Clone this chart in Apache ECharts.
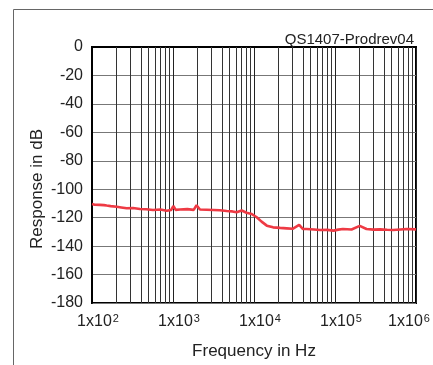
<!DOCTYPE html>
<html>
<head>
<meta charset="utf-8">
<script src="https://cdn.jsdelivr.net/npm/echarts@6/dist/echarts.min.js"></script>
<style>
  html, body { margin: 0; padding: 0; background: #fff; }
  #chart { width: 433px; height: 365px; }
</style>
</head>
<body>
<div id="chart"></div>
<script>
const freqHz = [100, 108, 114, 125, 140, 152, 170, 202, 230, 268, 320, 391, 470, 566, 700, 836, 950, 1010, 1080, 1220, 1500, 1800, 1955, 2150, 2600, 3150, 3800, 4600, 5400, 6100, 7050, 8100, 9370, 10800, 12400, 14400, 17200, 21000, 25300, 30000, 36100, 40000, 44500, 55000, 65300, 80000, 95900, 110000, 125000, 160000, 202000, 245000, 300000, 360000, 440000, 521000, 640000, 767000, 1000000];
const respDb = [-110.4, -110.9, -109.9, -111.0, -111.2, -111.5, -111.9, -112.3, -112.8, -113.4, -113.2, -113.9, -114.1, -114.6, -114.3, -115.1, -114.6, -111.8, -114.5, -114.3, -114.0, -114.5, -111.3, -114.3, -114.4, -114.6, -114.8, -115.3, -115.6, -116.2, -115.0, -116.5, -117.4, -119.7, -122.8, -125.6, -126.8, -127.2, -127.5, -127.8, -125.1, -127.9, -128.0, -128.3, -128.7, -128.6, -129.1, -128.4, -128.0, -128.3, -125.8, -128.0, -128.4, -128.2, -128.5, -128.7, -128.3, -128.0, -128.2];

const yTicks = [0, -20, -40, -60, -80, -100, -120, -140, -160, -180];
const decades = [100, 1000, 10000, 100000];
const minorSteps = [2, 3, 4, 5, 6, 7, 8, 9];

const minorLines = [];
decades.forEach(d => minorSteps.forEach(m => minorLines.push({ xAxis: d * m })));

const chart = echarts.init(document.getElementById('chart'));
const font = 'Liberation Sans, Arial, sans-serif';

chart.setOption({
  animation: false,
  title: {
    text: 'QS1407-Prodrev04',
    right: 14,
    top: 27,
    textStyle: { fontFamily: font, fontSize: 15, fontWeight: 'normal', color: '#222' }
  },
  graphic: [{
    type: 'polyline',
    silent: true,
    shape: { points: [[13.5, 370], [13.5, 9.5], [440, 9.5]] },
    style: { fill: null, stroke: '#666', lineWidth: 1 }
  }, {
    type: 'text',
    silent: true,
    x: 37,
    y: 189,
    rotation: Math.PI / 2,
    style: {
      text: 'Response in dB',
      fontFamily: font, fontSize: 17, fill: '#222',
      align: 'center', verticalAlign: 'middle'
    }
  }],
  grid: {
    left: 92, top: 47, right: 17, bottom: 62,
    outerBoundsMode: 'none',
    show: true, borderColor: '#000', borderWidth: 2, backgroundColor: 'transparent'
  },
  xAxis: {
    type: 'log',
    logBase: 10,
    min: 100,
    max: 1000000,
    name: 'Frequency in Hz',
    nameLocation: 'middle',
    nameGap: 40,
    nameTextStyle: { fontFamily: font, fontSize: 17, color: '#222' },
    axisLine: { show: true, lineStyle: { color: '#000', width: 2 } },
    axisTick: { show: false },
    splitLine: { show: true, lineStyle: { color: '#222', width: 1 } },
    axisLabel: {
      margin: 10,
      padding: [0, 0, 0, 12],
      formatter: v => {
        const e = Math.round(Math.log10(v));
        return '{b|1x10}{s|' + e + '}' + (e === 6 ? '{g| }' : '');
      },
      rich: {
        b: { fontFamily: font, fontSize: 16, color: '#222' },
        s: { fontFamily: font, fontSize: 11, color: '#222', verticalAlign: 'top', padding: [0, 0, 7, 1] },
        g: { width: 26, fontSize: 11 }
      }
    }
  },
  yAxis: {
    type: 'value',
    min: -180,
    max: 0,
    interval: 20,
    axisLine: { show: true, lineStyle: { color: '#000', width: 2 } },
    axisTick: { show: false },
    splitLine: { show: true, lineStyle: { color: '#777', width: 1 } },
    axisLabel: {
      margin: 9,
      fontFamily: font, fontSize: 16, color: '#222',
      formatter: v => yTicks.includes(v) ? String(v) : ''
    }
  },
  series: [{
    type: 'line',
    data: freqHz.map((f, i) => [f, respDb[i]]),
    showSymbol: false,
    lineStyle: { color: '#ee3a44', width: 2.6 },
    z: 5,
    markLine: {
      silent: true,
      symbol: 'none',
      label: { show: false },
      lineStyle: { color: '#333', width: 1, type: 'solid' },
      data: minorLines,
      z: 1
    }
  }]
});
</script>
</body>
</html>
